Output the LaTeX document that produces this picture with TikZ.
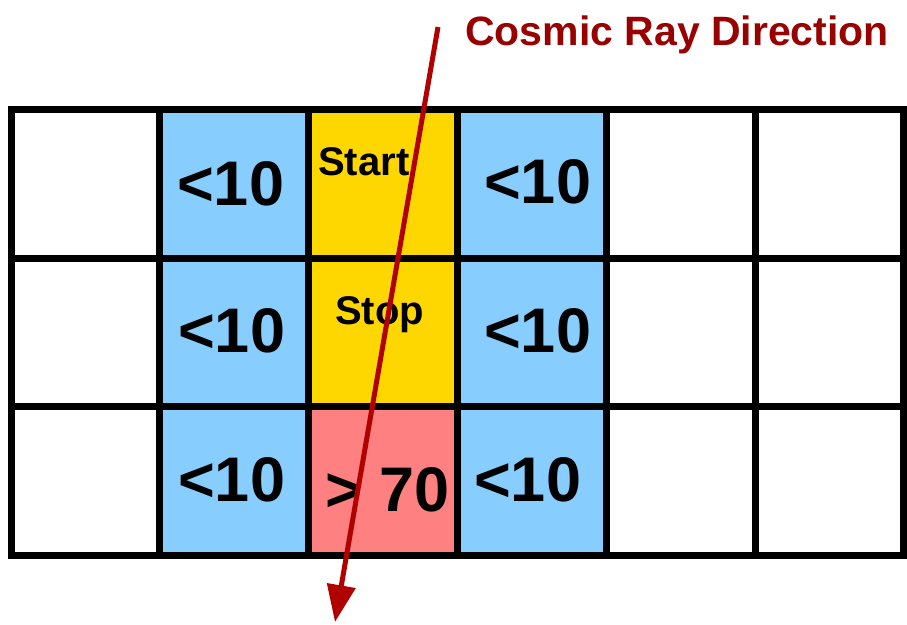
\documentclass[tikz,border=0pt]{standalone}
\usepackage{fontspec}
\setmainfont{Liberation Sans}
\usetikzlibrary{arrows.meta}
\definecolor{cellblue}{HTML}{87CEFF}
\definecolor{cellgold}{HTML}{FFD700}
\definecolor{cellred}{HTML}{FF8080}
\definecolor{raycol}{HTML}{B00000}
\definecolor{titlecol}{HTML}{990000}

\begin{document}
\begin{tikzpicture}[x=1pt,y=-1pt,
    cell/.style={draw=black, line width=7pt, minimum width=148.8pt,
      minimum height=148.5pt, inner sep=0pt, outer sep=0pt},
    bignum/.style={font=\fontsize{63}{63}\selectfont\bfseries,
      anchor=base west, inner sep=0pt},
    smalltag/.style={font=\fontsize{40}{40}\selectfont\bfseries,
      anchor=base west, inner sep=0pt}]
  \useasboundingbox (0,0) rectangle (907,624);

  % Detector cells, 6 columns x 3 rows
  \foreach \c/\r/\col in {1/1/white,2/1/cellblue,3/1/cellgold,4/1/cellblue,5/1/white,6/1/white,
      1/2/white,2/2/cellblue,3/2/cellgold,4/2/cellblue,5/2/white,6/2/white,
      1/3/white,2/3/cellblue,3/3/cellred,4/3/cellblue,5/3/white,6/3/white}
    \node[cell, fill=\col] (c\c\r) at ({11+148.8*(\c-0.5)},{109.5+148.5*(\r-0.5)}) {};

  % Cell labels
  \node[bignum] (l21) at (177,205) {<10};
  \node[bignum] (l41) at (484,203) {<10};
  \node[bignum] (l22) at (178,352) {<10};
  \node[bignum] (l42) at (484,352) {<10};
  \node[bignum] (l23) at (178,501) {<10};
  \node[bignum] (l43) at (474,501) {<10};
  \node[bignum] (l33) at (325,511) {> 70};
  \node[smalltag] (start) at (318,175) {Start};
  \node[smalltag] (stop) at (335,324) {Stop};

  % Title
  \node[font=\fontsize{41}{41}\selectfont\bfseries, text=titlecol,
    anchor=base west, inner sep=0pt] (title) at (465,45) {Cosmic Ray Direction};

  % Track of the ray
  \coordinate (raytop) at (438,27);
  \coordinate (raybot) at (335,622);
  \draw[raycol, line width=5pt, -{Triangle[length=37pt,width=28pt]}] (raytop) -- (raybot);
\end{tikzpicture}
\end{document}
